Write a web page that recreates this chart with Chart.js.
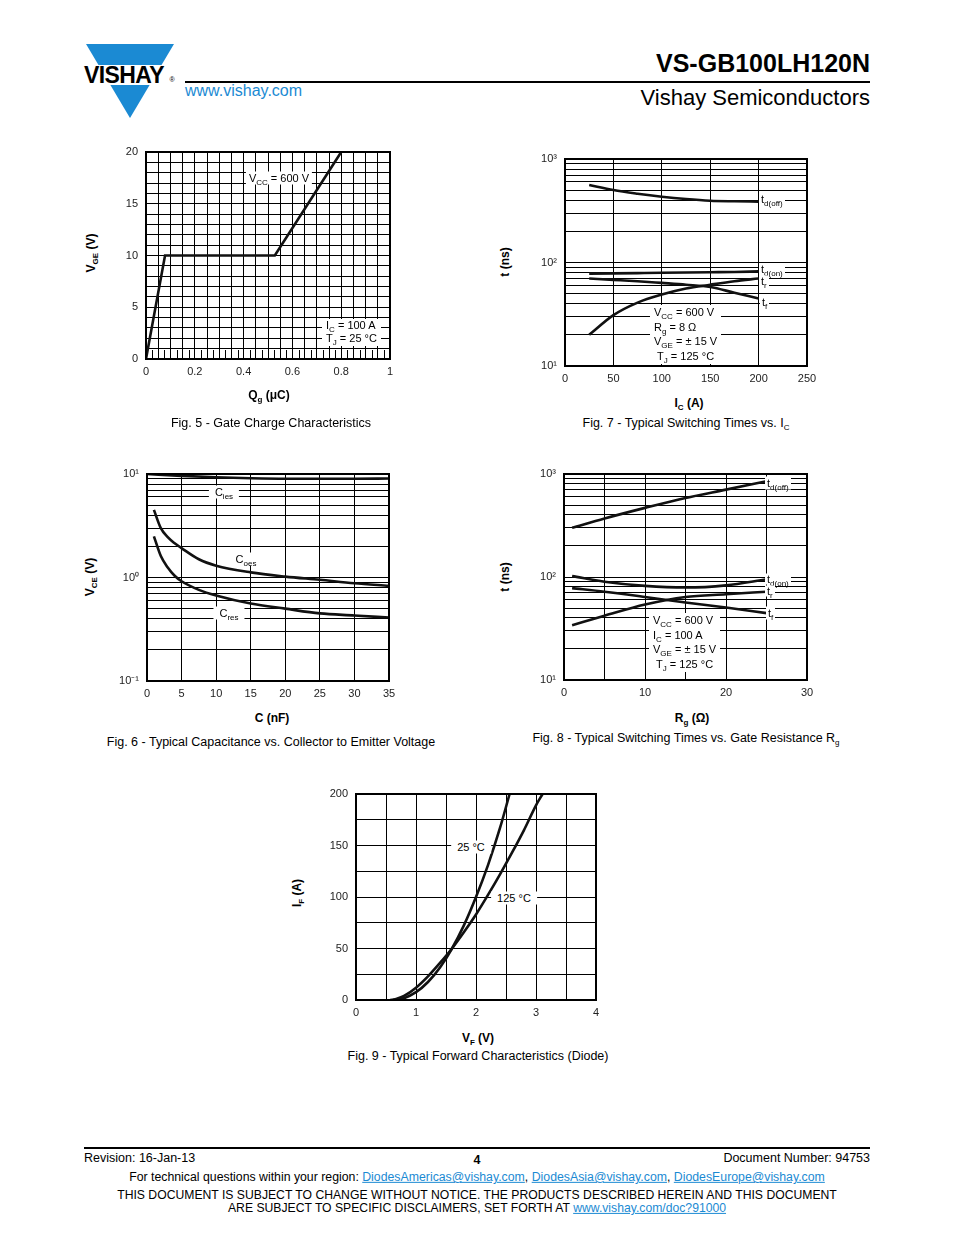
<!DOCTYPE html>
<html>
<head>
<meta charset="utf-8">
<title>VS-GB100LH120N</title>
<script src="https://cdn.jsdelivr.net/npm/chart.js@4.4.1/dist/chart.umd.min.js"></script>
<style>
  html, body { margin: 0; padding: 0; background: #fff; }
  body { position: relative; width: 954px; height: 1235px; overflow: hidden;
         font-family: "Liberation Sans", Arial, sans-serif; color: #000; }
  .t { position: absolute; white-space: nowrap; line-height: 1; }
  .c { transform: translate(-50%, -50%); }
  .r { transform: translate(-100%, -50%); }
  .l { transform: translate(0, -50%); }
  .rot { transform: translate(-50%, -50%) rotate(-90deg); }
  .ax { font-size: 12px; font-weight: bold; }
  .cap { font-size: 12.5px; }
  .note { font-size: 11px; background: #fff; padding: 1px 3px; }
  .box { position: absolute; font-size: 11px; background: #fff; line-height: 14.7px; white-space: nowrap; padding: 0 4px; }
  sub { font-size: 8px; vertical-align: -3px; line-height: 0; }
  canvas { position: absolute; }
  a { color: #1b8ad3; }
  .hr { position: absolute; height: 2px; background: #000; }
</style>
</head>
<body>

<!-- header -->
<svg class="t" style="left:80px;top:40px" width="100" height="82">
  <polygon points="6,4 94,4 50,78" fill="#1b8ad3"/>
  <rect x="0" y="25" width="100" height="20" fill="#fff"/>
  <text x="4" y="42.5" font-family="Liberation Sans" font-weight="bold" font-size="23" letter-spacing="-0.6">VISHAY</text>
  <text x="89.5" y="42" font-family="Liberation Sans" font-size="7">®</text>
</svg>
<div class="hr" style="left:185px;top:81px;width:685px"></div>
<div class="t r" style="left:870px;top:63px;font-size:25px;font-weight:bold">VS-GB100LH120N</div>
<div class="t l" style="left:185px;top:91px;font-size:16px;color:#1b8ad3">www.vishay.com</div>
<div class="t r" style="left:870px;top:98px;font-size:22px">Vishay Semiconductors</div>

<!-- chart canvases -->
<canvas id="fig5"></canvas>
<canvas id="fig7"></canvas>
<canvas id="fig6"></canvas>
<canvas id="fig8"></canvas>
<canvas id="fig9"></canvas>

<!-- Fig 5 texts -->
<div class="t rot ax" style="left:91px;top:253px">V<sub>GE</sub> (V)</div>
<div class="t c ax" style="left:269px;top:395px">Q<sub>g</sub> (μC)</div>
<div class="t c cap" style="left:271px;top:423px">Fig. 5 - Gate Charge Characteristics</div>
<div class="t c note" style="left:279px;top:178px">V<sub>CC</sub> = 600 V</div>
<div class="box" style="left:322px;top:319px;line-height:13px;padding:0 4px 1px 4px">I<sub>C</sub> = 100 A<br>T<sub>J</sub> = 25 °C</div>

<!-- Fig 7 texts -->
<div class="t rot ax" style="left:505px;top:262px">t (ns)</div>
<div class="t c ax" style="left:689px;top:403px">I<sub>C</sub> (A)</div>
<div class="t c cap" style="left:686px;top:423px">Fig. 7 - Typical Switching Times vs. I<sub>C</sub></div>
<div class="t l note" style="left:759px;top:199px;padding:1px 2px">t<sub>d(off)</sub></div>
<div class="t l note" style="left:759px;top:269px;padding:0 2px">t<sub>d(on)</sub></div>
<div class="t l note" style="left:759px;top:281px;padding:0 2px">t<sub>r</sub></div>
<div class="t l note" style="left:760px;top:302px;padding:1px 2px">t<sub>f</sub></div>
<div class="box" style="left:650px;top:305px">V<sub>CC</sub> = 600 V<br>R<sub>g</sub> = 8 Ω<br>V<sub>GE</sub> = ± 15 V<br>&nbsp;T<sub>J</sub> = 125 °C</div>

<!-- Fig 6 texts -->
<div class="t rot ax" style="left:90px;top:577px">V<sub>CE</sub> (V)</div>
<div class="t c ax" style="left:272px;top:718px">C (nF)</div>
<div class="t c cap" style="left:271px;top:742px">Fig. 6 - Typical Capacitance vs. Collector to Emitter Voltage</div>
<div class="t c note" style="left:224px;top:492px;padding:1px 6px">C<sub>ies</sub></div>
<div class="t c note" style="left:246px;top:559px">C<sub>oes</sub></div>
<div class="t c note" style="left:229px;top:613px;padding:1px 6px">C<sub>res</sub></div>

<!-- Fig 8 texts -->
<div class="t rot ax" style="left:505px;top:577px">t (ns)</div>
<div class="t c ax" style="left:692px;top:718px">R<sub>g</sub> (Ω)</div>
<div class="t c cap" style="left:686px;top:738px">Fig. 8 - Typical Switching Times vs. Gate Resistance R<sub>g</sub></div>
<div class="t l note" style="left:765px;top:483px;padding:1px 2px">t<sub>d(off)</sub></div>
<div class="t l note" style="left:765px;top:579px;padding:0 2px">t<sub>d(on)</sub></div>
<div class="t l note" style="left:765px;top:591px;padding:0 2px">t<sub>r</sub></div>
<div class="t l note" style="left:766px;top:613px;padding:1px 2px">t<sub>f</sub></div>
<div class="box" style="left:649px;top:613px">V<sub>CC</sub> = 600 V<br>I<sub>C</sub> = 100 A<br>V<sub>GE</sub> = ± 15 V<br>&nbsp;T<sub>J</sub> = 125 °C</div>

<!-- Fig 9 texts -->
<div class="t rot ax" style="left:297px;top:893px">I<sub>F</sub> (A)</div>
<div class="t c ax" style="left:478px;top:1038px">V<sub>F</sub> (V)</div>
<div class="t c cap" style="left:478px;top:1056px">Fig. 9 - Typical Forward Characteristics (Diode)</div>
<div class="t c note" style="left:471px;top:847px;padding:1px 6px">25 °C</div>
<div class="t c note" style="left:514px;top:898px;padding:1px 6px">125 °C</div>

<!-- footer -->
<div class="hr" style="left:84px;top:1147px;width:786px"></div>
<div class="t l" style="left:84px;top:1158px;font-size:12.5px">Revision: 16-Jan-13</div>
<div class="t c" style="left:477px;top:1160px;font-size:12.5px;font-weight:bold">4</div>
<div class="t r" style="left:870px;top:1158px;font-size:12.5px">Document Number: 94753</div>
<div class="t c" style="left:477px;top:1177px;font-size:12.3px">For technical questions within your region: <a href="#">DiodesAmericas@vishay.com</a>, <a href="#">DiodesAsia@vishay.com</a>, <a href="#">DiodesEurope@vishay.com</a></div>
<div class="t c" style="left:477px;top:1195px;font-size:12.2px">THIS DOCUMENT IS SUBJECT TO CHANGE WITHOUT NOTICE. THE PRODUCTS DESCRIBED HEREIN AND THIS DOCUMENT</div>
<div class="t c" style="left:477px;top:1208px;font-size:12.2px">ARE SUBJECT TO SPECIFIC DISCLAIMERS, SET FORTH AT <a href="#">www.vishay.com/doc?91000</a></div>

<script>
// ---- Fig. 5 gate charge ----
const gateQg = [0, 0.078, 0.528, 0.8];
const gateVge = [0, 10, 10, 20];
const fig5XLabels = [0, 0.2, 0.4, 0.6, 0.8, 1];
const fig5YLabels = [0, 5, 10, 15, 20];

// ---- Fig. 7 switching times vs IC ----
const icAmps = [25, 50, 75, 100, 125, 150, 175, 200];
const icTdOff = [561, 501, 462, 432, 410, 395, 390, 387];
const icTdOn = [78, 78.5, 79, 79.5, 80, 80.5, 81, 82];
const icTr = [20, 31, 41, 49, 56, 61, 66, 70];
const icTf = [70, 68, 66, 63.5, 61, 58, 51, 45];
const fig7XLabels = [0, 50, 100, 150, 200, 250];
const fig7YLabels = [10, 100, 1000];

// ---- Fig. 6 capacitance ----
const ciesV = [0, 5, 10, 15, 20, 25, 30, 35];
const cies = [10.0, 9.6, 9.3, 9.1, 9.0, 9.0, 9.0, 9.05];
const coesV = [1, 2, 3, 4, 5, 7.5, 10, 15, 20, 25, 30, 35];
const coes = [4.5, 3.0, 2.45, 2.14, 1.92, 1.5, 1.3, 1.12, 1.02, 0.95, 0.88, 0.83];
const cresV = [1, 2, 3, 4, 5, 7.5, 10, 15, 20, 25, 30, 35];
const cres = [2.5, 1.61, 1.25, 1.04, 0.92, 0.76, 0.67, 0.56, 0.5, 0.45, 0.43, 0.41];
const fig6XLabels = [0, 5, 10, 15, 20, 25, 30, 35];
const fig6YLabels = [0.1, 1, 10];

// ---- Fig. 8 switching times vs Rg ----
const rgOhm = [1, 5, 10, 15, 20, 25];
const rgTdOff = [300, 370, 469, 586, 705, 849];
const rgTdOn = [102, 90, 82, 79, 83, 95];
const rgTr = [34, 42, 54, 64, 68, 72];
const rgTf = [78, 72, 64, 56.5, 50.5, 44.6];
const fig8XLabels = [0, 10, 20, 30];
const fig8YLabels = [10, 100, 1000];

// ---- Fig. 9 diode forward ----
const vf25 = [0.57, 0.8, 1.0, 1.2, 1.4, 1.6, 1.8, 2.0, 2.2, 2.4, 2.56];
const if25 = [0, 1.8, 7.6, 17.5, 31.6, 50, 72.7, 100, 131, 167, 200];
const vf125 = [0.62, 0.8, 1.0, 1.2, 1.4, 1.6, 1.8, 2.0, 2.2, 2.4, 2.6, 2.8, 3.0, 3.11];
const if125 = [0, 4, 12, 23, 36, 50, 66, 83, 102, 122, 143, 165, 189, 200];
const fig9XLabels = [0, 1, 2, 3, 4];
const fig9YLabels = [0, 50, 100, 150, 200];

// layout
const Y_W = 45, X_H = 30, PAD_T = 18, PAD_R = 22;
const FONT = { family: '"Liberation Sans", Arial, sans-serif', size: 11 };

function range(a, b, step) {
  const out = [];
  for (let v = a; v <= b + step / 1000; v += step) out.push(+v.toFixed(6));
  return out;
}
function logGrid(min, max) {
  const out = [];
  for (let d = min; d < max * 1.0001; d *= 10) {
    for (let k = 1; k <= 9; k++) {
      const v = +(k * d).toPrecision(6);
      if (v <= max * 1.0001) out.push(v);
    }
  }
  return out;
}
const SUP = { '0': '⁰', '1': '¹', '2': '²', '3': '³', '4': '⁴', '5': '⁵', '6': '⁶', '7': '⁷', '8': '⁸', '9': '⁹', '-': '⁻' };
function pow10Label(v) {
  const e = Math.round(Math.log10(v));
  return '10' + String(e).split('').map(ch => SUP[ch]).join('');
}

function axis(type, min, max, grid, labels, isX, fmt) {
  return {
    type, min, max,
    afterBuildTicks: s => { s.ticks = grid.map(v => ({ value: v })); },
    afterFit: s => { if (isX) s.height = X_H; else s.width = Y_W; },
    grid: { color: '#000', lineWidth: 1, drawTicks: false },
    border: { display: false },
    ticks: {
      autoSkip: false, maxRotation: 0, minRotation: 0,
      padding: isX ? 6 : 8, color: '#222', font: FONT,
      callback: v => {
        const hit = labels.find(l => Math.abs(l - v) < Math.abs(l) * 1e-6 + 1e-9);
        if (hit === undefined) return '';
        return fmt ? fmt(hit) : String(hit);
      }
    }
  };
}

function curve(xs, ys, smooth) {
  return {
    data: xs.map((x, i) => ({ x, y: ys[i] })),
    borderColor: '#111', borderWidth: 2.6, pointRadius: 0, fill: false,
    tension: smooth ? 0.4 : 0, cubicInterpolationMode: smooth ? 'monotone' : 'default'
  };
}

// frame round the plot, plus optional short minor ticks standing on the bottom edge
const frame = {
  id: 'frame',
  afterDraw(c, args, opts) {
    const a = c.chartArea, g = c.ctx;
    g.save();
    g.strokeStyle = '#000';
    if (opts.minorX) {
      g.lineWidth = 1;
      g.beginPath();
      opts.minorX.forEach(v => {
        const px = Math.round(c.scales.x.getPixelForValue(v)) + 0.5;
        g.moveTo(px, a.bottom);
        g.lineTo(px, a.bottom - 9);
      });
      g.stroke();
    }
    g.lineWidth = 2;
    g.strokeRect(a.left, a.top, a.right - a.left, a.bottom - a.top);
    g.restore();
  }
};

function makeChart(id, box, datasets, xScale, yScale, frameOpts) {
  const cv = document.getElementById(id);
  const w = box.R - box.L + Y_W + PAD_R;
  const h = box.B - box.T + PAD_T + X_H;
  cv.width = w; cv.height = h;
  cv.style.width = w + 'px'; cv.style.height = h + 'px';
  cv.style.left = (box.L - Y_W) + 'px';
  cv.style.top = (box.T - PAD_T) + 'px';
  return new Chart(cv, {
    type: 'line',
    data: { datasets },
    options: {
      responsive: false, animation: false, devicePixelRatio: window.devicePixelRatio || 1,
      layout: { padding: { left: 0, top: PAD_T, right: PAD_R, bottom: 0 } },
      plugins: { legend: { display: false }, tooltip: { enabled: false }, frame: frameOpts || {} },
      scales: { x: xScale, y: yScale }
    },
    plugins: [frame]
  });
}

// Fig. 5
makeChart('fig5', { L: 146, T: 152, R: 390, B: 359 },
  [curve(gateQg, gateVge, false)],
  axis('linear', 0, 1, range(0, 1, 0.05), fig5XLabels, true),
  axis('linear', 0, 20, range(0, 20, 1), fig5YLabels, false),
  { minorX: range(0.025, 0.975, 0.05) });

// Fig. 7
makeChart('fig7', { L: 565, T: 159, R: 807, B: 366 },
  [curve(icAmps, icTdOff, true), curve(icAmps, icTdOn, true),
   curve(icAmps, icTr, true), curve(icAmps, icTf, true)],
  axis('linear', 0, 250, range(0, 250, 50), fig7XLabels, true),
  axis('logarithmic', 10, 1000, logGrid(10, 1000), fig7YLabels, false, pow10Label));

// Fig. 6
makeChart('fig6', { L: 147, T: 474, R: 389, B: 681 },
  [curve(ciesV, cies, true), curve(coesV, coes, true), curve(cresV, cres, true)],
  axis('linear', 0, 35, range(0, 35, 5), fig6XLabels, true),
  axis('logarithmic', 0.1, 10, logGrid(0.1, 10), fig6YLabels, false, pow10Label));

// Fig. 8
makeChart('fig8', { L: 564, T: 474, R: 807, B: 680 },
  [curve(rgOhm, rgTdOff, true), curve(rgOhm, rgTdOn, true),
   curve(rgOhm, rgTr, true), curve(rgOhm, rgTf, true)],
  axis('linear', 0, 30, range(0, 30, 5), fig8XLabels, true),
  axis('logarithmic', 10, 1000, logGrid(10, 1000), fig8YLabels, false, pow10Label));

// Fig. 9
makeChart('fig9', { L: 356, T: 794, R: 596, B: 1000 },
  [curve(vf25, if25, true), curve(vf125, if125, true)],
  axis('linear', 0, 4, range(0, 4, 0.5), fig9XLabels, true),
  axis('linear', 0, 200, range(0, 200, 25), fig9YLabels, false));
</script>
</body>
</html>
